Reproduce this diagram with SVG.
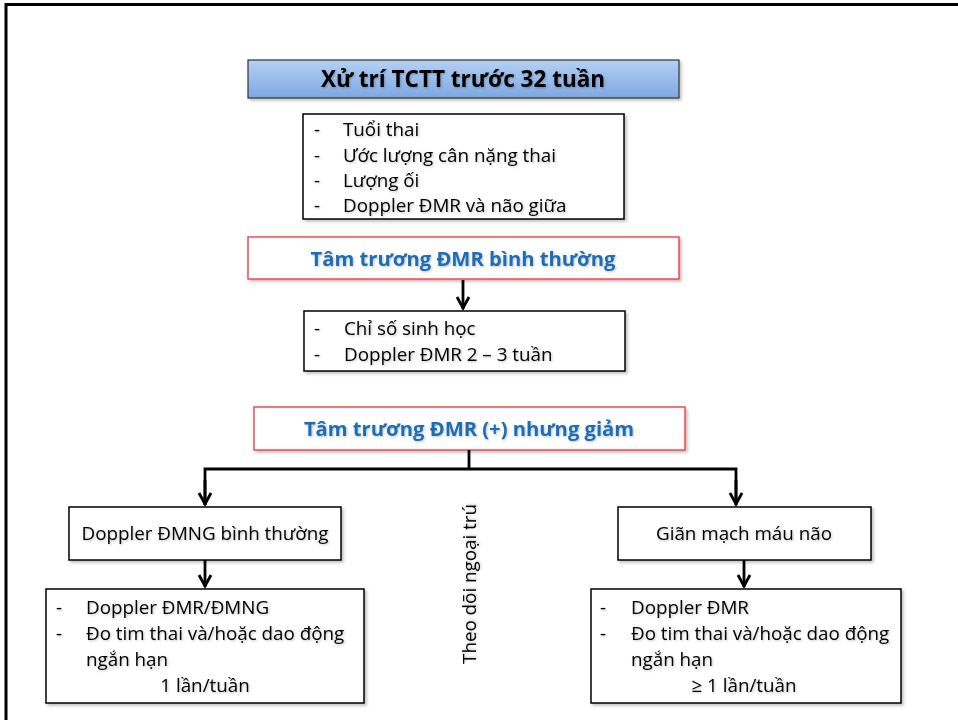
<svg xmlns="http://www.w3.org/2000/svg" width="958" height="720" viewBox="0 0 958 720">
<defs>
<linearGradient id="gBlue" x1="0" y1="0" x2="0" y2="1">
<stop offset="0" stop-color="#b5d0f3"/>
<stop offset="1" stop-color="#7ea8e2"/>
</linearGradient>
<filter id="sh" x="-5%" y="-10%" width="112%" height="130%">
<feDropShadow dx="2" dy="2" stdDeviation="1.5" flood-color="#000" flood-opacity="0.25"/>
</filter>
<filter id="tsh" x="-5%" y="-20%" width="110%" height="150%">
<feDropShadow dx="1" dy="1" stdDeviation="1" flood-color="#000" flood-opacity="0.25"/>
</filter>
<marker id="arr" viewBox="0 0 16 16" refX="14" refY="8" markerWidth="16" markerHeight="16" markerUnits="userSpaceOnUse" orient="auto">
<path d="M2,2 L13,8 L2,14" fill="none" stroke="#000" stroke-width="2.8"/>
</marker>
</defs>
<style>
.box{fill:#fff;stroke:#000;stroke-width:1.5;filter:url(#sh)}
.rbox{fill:#fff;stroke:#f0303a;stroke-width:1.3;filter:url(#sh)}
.t{font-family:"Open Sans","Liberation Sans",Arial,sans-serif;font-size:18.8px;fill:#000;filter:url(#tsh)}
.tb{font-family:"Open Sans","Liberation Sans",Arial,sans-serif;font-size:20.2px;font-weight:bold;fill:#1f6db8;filter:url(#tsh)}
.title{font-family:"Open Sans","Liberation Sans",Arial,sans-serif;font-size:22.5px;font-weight:bold;fill:#000;filter:url(#tsh)}
.c{text-anchor:middle}
.ln{fill:none;stroke:#000;stroke-width:2.8}
</style>
<rect width="958" height="720" fill="#fff"/>
<path d="M6,720 V4.5 H958" fill="none" stroke="#000" stroke-width="3"/>

<g id="title">
<rect x="248" y="60" width="431" height="38" fill="url(#gBlue)" stroke="#333" stroke-width="1.2" filter="url(#sh)"/>
<text class="title c" x="463" y="87">Xử trí TCTT trước 32 tuần</text>
</g>

<g id="list1">
<rect class="box" x="303" y="114" width="321" height="105"/>
<text class="t" x="314" y="136">-</text><text class="t" x="343" y="136">Tuổi thai</text>
<text class="t" x="314" y="162">-</text><text class="t" x="343" y="162">Ước lượng cân nặng thai</text>
<text class="t" x="314" y="187">-</text><text class="t" x="343" y="187">Lượng ối</text>
<text class="t" x="314" y="212">-</text><text class="t" x="343" y="212">Doppler ĐMR và não giữa</text>
</g>

<g id="normal">
<rect class="rbox" x="248" y="237" width="431" height="42"/>
<text class="tb c" x="463" y="266">Tâm trương ĐMR bình thường</text>
</g>

<g id="list2">
<rect class="box" x="304" y="311" width="321" height="60"/>
<text class="t" x="314" y="335">-</text><text class="t" x="344" y="335">Chỉ số sinh học</text>
<text class="t" x="314" y="361">-</text><text class="t" x="344" y="361">Doppler ĐMR 2 – 3 tuần</text>
</g>

<g id="reduced">
<rect class="rbox" x="254" y="407" width="431" height="43"/>
<text class="tb c" x="469" y="436">Tâm trương ĐMR (+) nhưng giảm</text>
</g>

<g id="leftBox">
<rect class="box" x="69" y="507" width="272" height="53"/>
<text class="t c" x="205" y="540">Doppler ĐMNG bình thường</text>
</g>

<g id="leftList">
<rect class="box" x="46" y="589" width="318" height="114"/>
<text class="t" x="56" y="614">-</text><text class="t" x="86" y="614">Doppler ĐMR/ĐMNG</text>
<text class="t" x="56" y="640">-</text><text class="t" x="86" y="640">Đo tim thai và/hoặc dao động</text>
<text class="t" x="86" y="666">ngắn hạn</text>
<text class="t c" x="205" y="692">1 lần/tuần</text>
</g>

<g id="rightBox">
<rect class="box" x="618" y="507" width="253" height="53"/>
<text class="t c" x="744" y="540">Giãn mạch máu não</text>
</g>

<g id="rightList">
<rect class="box" x="591" y="589" width="310" height="114"/>
<text class="t" x="600" y="614">-</text><text class="t" x="631" y="614">Doppler ĐMR</text>
<text class="t" x="600" y="640">-</text><text class="t" x="631" y="640">Đo tim thai và/hoặc dao động</text>
<text class="t" x="631" y="666">ngắn hạn</text>
<text class="t c" x="744" y="692">≥ 1 lần/tuần</text>
</g>

<g id="outpatient">
<text class="t c" transform="translate(476,584) rotate(-90)">Theo dõi ngoại trú</text>
</g>

<g id="connectors">
<path class="ln" d="M463,280 V309"  marker-end="url(#arr)"/>
<path class="ln" d="M469,450 V469"/>
<path class="ln" d="M205,505 V469 H736 V505"/>
<path class="ln" d="M205,480 V505" marker-end="url(#arr)"/>
<path class="ln" d="M736,480 V505" marker-end="url(#arr)"/>
<path class="ln" d="M205,560 V587" marker-end="url(#arr)"/>
<path class="ln" d="M744,560 V587" marker-end="url(#arr)"/>
</g>
</svg>
